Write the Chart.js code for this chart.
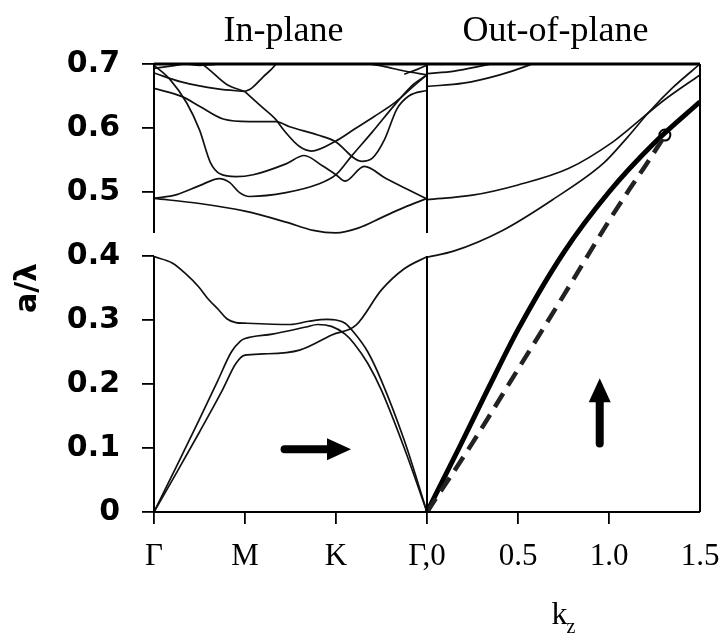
<!DOCTYPE html>
<html><head><meta charset="utf-8">
<script src="https://cdn.jsdelivr.net/npm/chart.js@4"></script>
<style>html,body{margin:0;padding:0;background:#fff}</style>
</head><body>
<canvas id="c" width="719" height="639"></canvas>
<script>
// ---- tick labels ----
const xTickLabels = ['Γ', 'M', 'K', 'Γ,0', '0.5', '1.0', '1.5'];
const yTickLabels = ['0', '0.1', '0.2', '0.3', '0.4', '0.5', '0.6', '0.7'];

// ---- in-plane bands: [path position (Γ=0, M=1, K=2, Γ=3), a/λ] ----
const bandA = [[0,0.490],[0.5,0.482],[1.0,0.470],[1.45,0.453],[1.75,0.440],[2.0,0.436],[2.25,0.444],[2.5,0.460],[2.75,0.476],[3.0,0.490]];
const bandB = [[0,0.490],[0.25,0.496],[0.5,0.510],[0.72,0.521],[0.83,0.515],[0.94,0.499],[1.05,0.493],[1.45,0.499],[1.8,0.512],[2.0,0.527],[2.17,0.556],[2.4,0.594],[2.65,0.637],[2.85,0.668],[3.0,0.683]];
const bandC = [[0,0.698],[0.175,0.676],[0.36,0.639],[0.5,0.597],[0.62,0.546],[0.73,0.528],[0.9,0.524],[1.09,0.527],[1.45,0.544],[1.65,0.557],[1.85,0.541],[2.0,0.527],[2.1,0.517],[2.31,0.540],[2.55,0.521],[2.8,0.503],[3.0,0.489]];
const bandD = [[0,0.662],[0.31,0.649],[0.5,0.634],[0.76,0.614],[1.05,0.610],[1.34,0.610],[1.49,0.602],[1.8,0.589],[1.99,0.579],[2.28,0.548],[2.4,0.553],[2.53,0.581],[2.67,0.630],[2.8,0.650],[3.0,0.659]];
const bandE = [[1.0,0.657],[1.16,0.636],[1.34,0.613],[1.43,0.596],[1.6,0.571],[1.73,0.564],[1.99,0.579],[2.2,0.598],[2.42,0.618],[2.65,0.640],[2.85,0.665],[3.0,0.683]];
const bandF = [[1.0,0.657],[1.07,0.662],[1.2,0.680],[1.33,0.698],[1.36,0.705]];
const bandH = [[0,0.686],[0.3,0.672],[0.7,0.661],[1.0,0.657]];
const bandJ = [[0.5,0.703],[0.6,0.692],[0.8,0.668],[1.0,0.657]];
const bandI = [[0,0.693],[0.2,0.697],[0.35,0.700],[0.5,0.698],[0.8,0.701]];
const bandG = [[2.25,0.703],[2.5,0.697],[2.75,0.689],[3.0,0.683]];
const bandK = [[2.75,0.684],[2.9,0.692],[3.0,0.698]];
const band1 = [[0,0],[0.25,0.062],[0.5,0.125],[0.75,0.19],[0.9,0.232],[1.0,0.245],[1.2,0.247],[1.6,0.253],[1.96,0.277],[2.22,0.292],[2.5,0.347],[2.75,0.380],[3.0,0.399]];
const band2 = [[0,0],[0.25,0.072],[0.5,0.145],[0.7,0.205],[0.85,0.250],[0.95,0.267],[1.0,0.271],[1.3,0.278],[1.67,0.289],[1.8,0.293],[1.95,0.290],[2.1,0.278],[2.2,0.263],[2.35,0.232],[2.5,0.190],[2.75,0.100],[3.0,0]];
const band3 = [[0,0.399],[0.2,0.389],[0.35,0.372],[0.49,0.352],[0.6,0.332],[0.71,0.316],[0.8,0.302],[0.9,0.296],[1.0,0.295],[1.5,0.293],[1.7,0.298],[1.9,0.301],[2.0,0.300],[2.1,0.295],[2.2,0.280],[2.35,0.250],[2.5,0.205],[2.75,0.112],[3.0,0]];

// ---- out-of-plane: [kz, a/λ] ----
const oopR1 = [[0,0.398],[0.15,0.408],[0.415,0.440],[0.69,0.488],[0.97,0.545],[1.1,0.585],[1.22,0.625],[1.35,0.663],[1.5,0.700]];
const oopR2 = [[0,0.488],[0.25,0.495],[0.5,0.511],[0.78,0.537],[1.02,0.578],[1.1,0.596],[1.3,0.643],[1.5,0.683]];
const oopR3 = [[0,0.665],[0.2,0.670],[0.4,0.683],[0.55,0.697],[0.6,0.703]];
const oopR4 = [[0,0.685],[0.15,0.689],[0.3,0.697],[0.4,0.703]];
const oopSolid = [[0,0],[0.176,0.1],[0.34,0.195],[0.5,0.285],[0.75,0.405],[1.0,0.500],[1.25,0.577],[1.5,0.641]];
const oopDashed = [[0,0],[0.25,0.108],[0.5,0.223],[0.75,0.338],[1.0,0.455],[1.1,0.499],[1.2,0.541],[1.3,0.585]];
const oopMarker = [[1.307,0.589]];

// ---- build chart data ----
const inPlane = arr => arr.map(([x, y]) => ({x, y}));
const outPlane = arr => arr.map(([k, y]) => ({x: 3 + 2 * k, y}));

const thinStyle = {showLine: true, pointRadius: 0, borderColor: '#111', borderWidth: 1.7, cubicInterpolationMode: 'monotone', fill: false};
const thinBands = [bandA, bandB, bandC, bandD, bandE, bandF, bandH, bandJ, bandI, bandG, bandK, band1, band2, band3].map(b => Object.assign({data: inPlane(b)}, thinStyle));
const thinOop = [oopR1, oopR2, oopR3, oopR4].map(b => Object.assign({data: outPlane(b)}, thinStyle));

const datasets = thinBands.concat(thinOop).concat([
  {data: outPlane(oopDashed), showLine: true, pointRadius: 0, borderColor: '#222', borderWidth: 4.5, borderDash: [16, 9], cubicInterpolationMode: 'monotone'},
  {data: outPlane(oopSolid), showLine: true, pointRadius: 0, borderColor: '#000', borderWidth: 5, cubicInterpolationMode: 'monotone'},
  {data: outPlane(oopMarker), showLine: false, pointRadius: 5.5, pointBackgroundColor: '#fff', pointBorderColor: '#000', pointBorderWidth: 2}
]);

// ---- frame, arrows and panel titles ----
const framePlugin = {
  id: 'frame',
  afterDatasetsDraw(chart) {
    const {ctx, scales: {x, y}} = chart;
    const X = v => x.getPixelForValue(v), Y = v => y.getPixelForValue(v);
    ctx.save();
    ctx.strokeStyle = '#000';
    ctx.lineCap = 'butt';
    const seg = (x1, y1, x2, y2, w) => { ctx.lineWidth = w; ctx.beginPath(); ctx.moveTo(X(x1), Y(y1)); ctx.lineTo(X(x2), Y(y2)); ctx.stroke(); };
    const gapLow = 0.4, gapHigh = 0.436;
    [0, 3].forEach(v => { seg(v, 0, v, gapLow, 2); seg(v, gapHigh, v, 0.7, 2); });
    seg(6, 0, 6, 0.7, 2);
    seg(0, 0, 6, 0, 2);
    seg(0, 0.7, 6, 0.7, 3);

    // arrows
    const arrow = (x1, y1, x2, y2) => {
      const px1 = X(x1), py1 = Y(y1), px2 = X(x2), py2 = Y(y2);
      const ang = Math.atan2(py2 - py1, px2 - px1);
      const headLen = 24, headHalf = 11;
      const bx = px2 - headLen * Math.cos(ang), by = py2 - headLen * Math.sin(ang);
      ctx.lineWidth = 8; ctx.lineCap = 'round';
      ctx.beginPath(); ctx.moveTo(px1, py1); ctx.lineTo(bx, by); ctx.stroke();
      ctx.fillStyle = '#000';
      ctx.beginPath();
      ctx.moveTo(px2, py2);
      ctx.lineTo(bx + headHalf * Math.sin(ang), by - headHalf * Math.cos(ang));
      ctx.lineTo(bx - headHalf * Math.sin(ang), by + headHalf * Math.cos(ang));
      ctx.closePath(); ctx.fill();
    };
    arrow(1.435, 0.098, 2.165, 0.098);
    arrow(4.898, 0.107, 4.898, 0.209);

    // panel titles
    ctx.fillStyle = '#000';
    ctx.textAlign = 'center';
    ctx.textBaseline = 'alphabetic';
    ctx.font = '36px "Liberation Serif"';
    ctx.fillText('In-plane', X(1.5) - 7, 41);
    ctx.fillText('Out-of-plane', X(4.5) - 8, 41);

    // x axis title k_z
    ctx.textAlign = 'left';
    ctx.font = '32px "Liberation Serif"';
    const kx = X(4.5) - 12;
    ctx.fillText('k', kx, 624);
    const kw = ctx.measureText('k').width;
    ctx.font = '20px "Liberation Serif"';
    ctx.fillText('z', kx + kw - 1, 633);
    ctx.restore();
  }
};

new Chart(document.getElementById('c'), {
  type: 'scatter',
  data: {datasets},
  options: {
    responsive: false,
    animation: false,
    devicePixelRatio: 1,
    layout: {padding: {top: 64, right: 19, left: 0, bottom: 0}},
    plugins: {legend: {display: false}, tooltip: {enabled: false}},
    scales: {
      x: {
        type: 'linear', min: 0, max: 6,
        afterFit: s => { s.height = 127; s.paddingLeft = 0; s.paddingRight = 0; },
        border: {display: false},
        grid: {drawOnChartArea: false, drawTicks: true, tickLength: 12, lineWidth: 1.8,
               color: ctx => (ctx.tick && ctx.tick.value === 6) ? 'rgba(0,0,0,0)' : '#000'},
        ticks: {stepSize: 1, autoSkip: false, maxRotation: 0, padding: 14, color: '#000',
                font: {family: 'Liberation Serif', size: 31},
                callback: (v, i) => xTickLabels[i]}
      },
      y: {
        min: 0, max: 0.7,
        afterFit: s => { s.width = 154; s.paddingTop = 0; s.paddingBottom = 0; },
        border: {display: false},
        grid: {drawOnChartArea: false, drawTicks: true, tickLength: 12, lineWidth: 1.8, color: '#000'},
        ticks: {stepSize: 0.1, autoSkip: false, padding: 22, color: '#000',
                font: {family: 'DejaVu Sans', weight: 'bold', size: 30},
                callback: (v, i) => yTickLabels[i]},
        title: {display: true, text: 'a/λ', color: '#000', padding: {top: 10, bottom: 0},
                font: {family: 'DejaVu Sans', weight: 'bold', size: 30}}
      }
    }
  },
  plugins: [framePlugin]
});
</script>
</body></html>
